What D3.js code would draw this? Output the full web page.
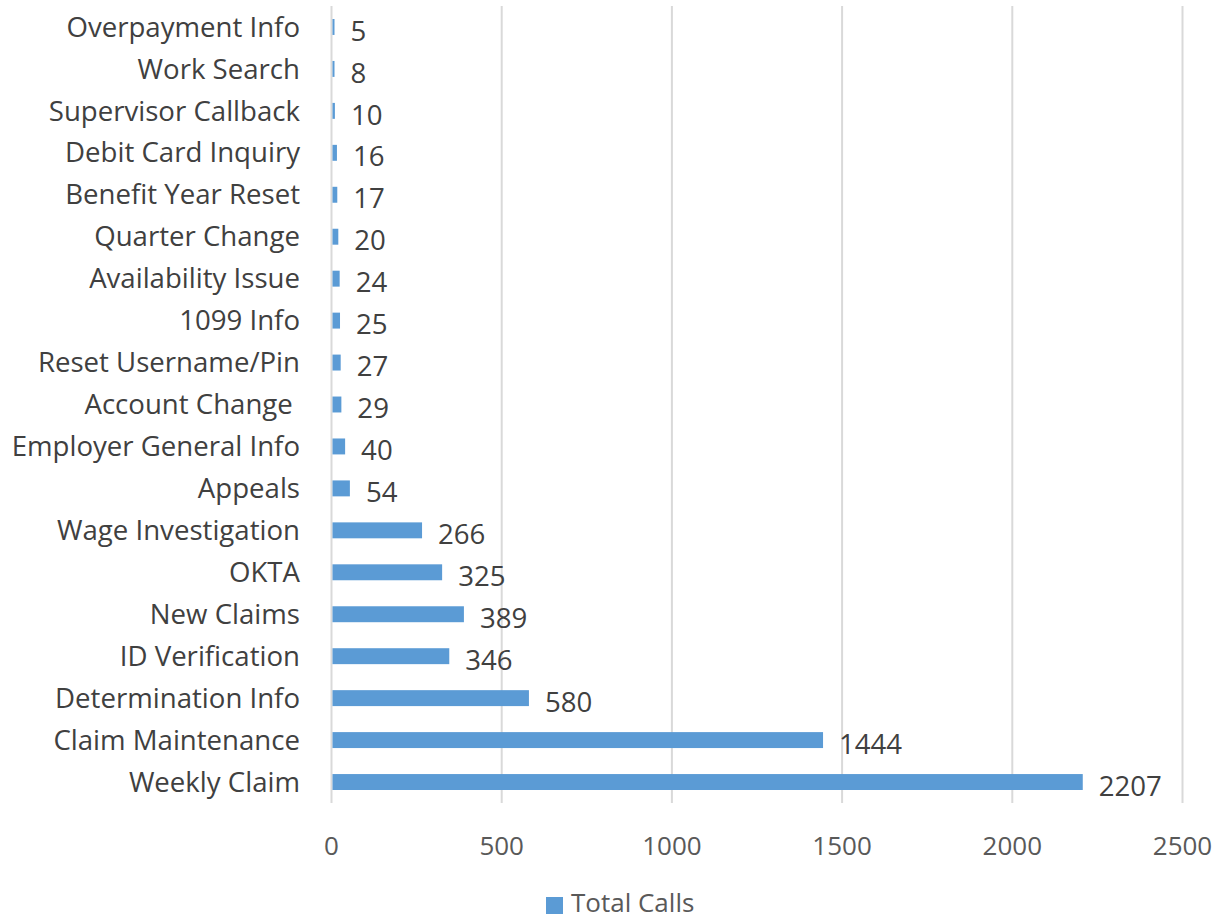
<!DOCTYPE html>
<html>
<head>
<meta charset="utf-8">
<style>
  body { margin: 0; background: #fff; }
  text { font-family: "Open Sans", sans-serif; white-space: pre; }
</style>
</head>
<body>
<svg width="1219" height="920"></svg>
<script src="https://d3js.org/d3.v7.min.js"></script>
<script>
// categories, top to bottom as drawn
var categories = ["Overpayment Info", "Work Search", "Supervisor Callback", "Debit Card Inquiry",
  "Benefit Year Reset", "Quarter Change", "Availability Issue", "1099 Info", "Reset Username/Pin",
  "Account Change ", "Employer General Info", "Appeals", "Wage Investigation", "OKTA", "New Claims",
  "ID Verification", "Determination Info", "Claim Maintenance", "Weekly Claim"];
var totalCalls = [5, 8, 10, 16, 17, 20, 24, 25, 27, 29, 40, 54, 266, 325, 389, 346, 580, 1444, 2207];
var xTicks = [0, 500, 1000, 1500, 2000, 2500];
var seriesName = "Total Calls";

var BLUE = "#5b9bd5";
var svg = d3.select("svg");

var x = d3.scaleLinear().domain([0, 2500]).range([331.5, 1182.5]);
var y = d3.scaleBand().domain(categories).range([6, 803]).paddingInner(0.62).paddingOuter(0.31);

// gridlines
svg.selectAll(".grid").data(xTicks).enter().append("line")
  .attr("x1", function(d) { return x(d); })
  .attr("x2", function(d) { return x(d); })
  .attr("y1", 6).attr("y2", 803)
  .style("stroke", "#d9d9d9").style("stroke-width", 2);

// tick labels
svg.selectAll(".tick").data(xTicks).enter().append("text")
  .attr("x", function(d) { return x(d); })
  .attr("y", 855)
  .attr("text-anchor", "middle")
  .style("font-size", "26px").style("fill", "#595959")
  .text(function(d) { return d; });

// bars
var rows = categories.map(function(c, i) { return {cat: c, val: totalCalls[i]}; });

svg.selectAll(".bar").data(rows).enter().append("rect")
  .attr("x", x(0) + 1)
  .attr("y", function(d) { return y(d.cat); })
  .attr("width", function(d) { return Math.max(x(d.val) - x(0) - 1, 2); })
  .attr("height", y.bandwidth())
  .style("fill", BLUE);

// category labels
svg.selectAll(".cat").data(rows).enter().append("text")
  .attr("x", 300)
  .attr("y", function(d) { return y(d.cat) + y.bandwidth() / 2; })
  .attr("dy", "0.35em")
  .attr("text-anchor", "end")
  .style("font-size", "27.6px").style("fill", "#404040")
  .text(function(d) { return d.cat; });

// value labels
svg.selectAll(".val").data(rows).enter().append("text")
  .attr("x", function(d) { return Math.max(x(d.val), x(0) + 3) + 16; })
  .attr("y", function(d) { return y(d.cat) + y.bandwidth() / 2 + 4; })
  .attr("dy", "0.35em")
  .style("font-size", "27.6px").style("fill", "#404040")
  .text(function(d) { return d.val; });

// legend
svg.append("rect").attr("x", 546).attr("y", 897).attr("width", 17).attr("height", 17).style("fill", BLUE);
svg.append("text").attr("x", 571).attr("y", 903).attr("dy", "0.35em")
  .style("font-size", "26px").style("fill", "#595959")
  .text(seriesName);
</script>
</body>
</html>
